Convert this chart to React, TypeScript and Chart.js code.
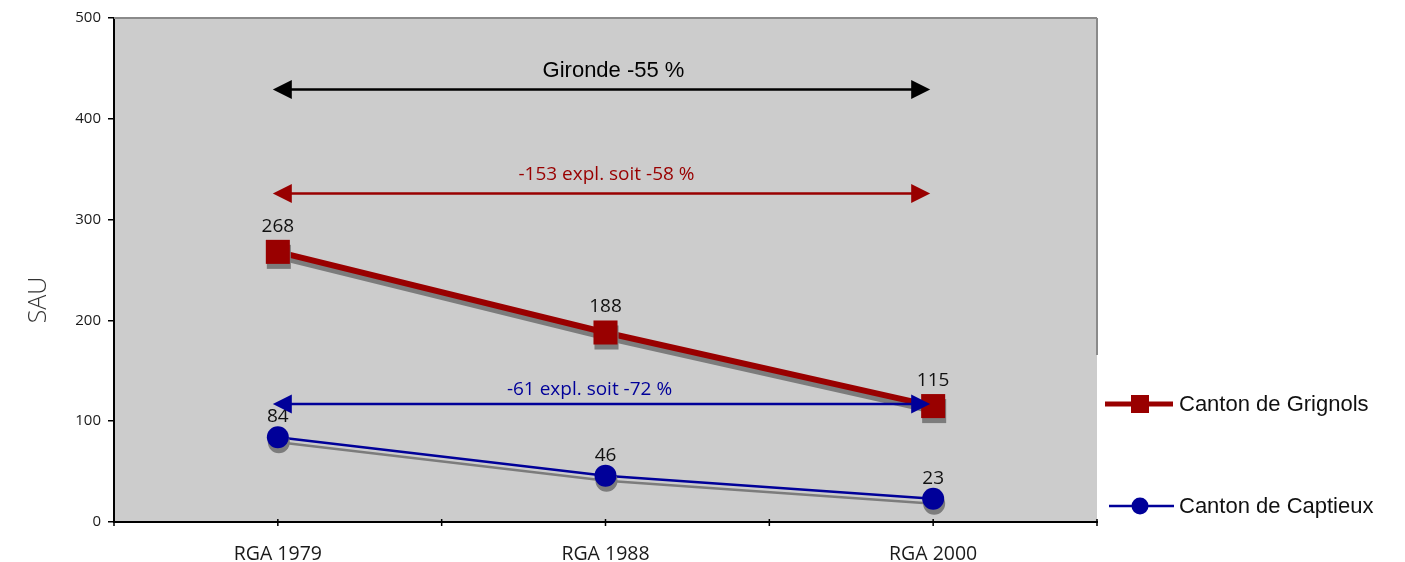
import { useEffect, useRef } from "react";
import { Chart, registerables } from "chart.js";

Chart.register(...registerables);

// Surface agricole (SAU) per canton across the three agricultural censuses
const categories = ["RGA 1979", "RGA 1988", "RGA 2000"];
const grignols = [268, 188, 115];
const captieux = [84, 46, 23];
const yTicks = [0, 100, 200, 300, 400, 500];
const seriesNames = ["Canton de Grignols", "Canton de Captieux"];

// Change arrows spanning 1979 -> 2000, placed at a level of the value axis
const arrowTexts = ["Gironde -55 %", "-153 expl. soit -58 %", "-61 expl. soit -72 %"];
const arrowLevels = [429, 326, 117];

const RED = "#990000";
const BLUE = "#000099";
const SANS = "'Open Sans', sans-serif";
const ARIAL = "'Liberation Sans', Arial, sans-serif";

const arrowStyles = [
  { color: "#000000", font: `22px ${ARIAL}`, dx: 12, dy: -13, width: 2.5 },
  { color: RED, font: `19px ${SANS}`, dx: 5, dy: -13, width: 2.5 },
  { color: BLUE, font: `19px ${SANS}`, dx: -12, dy: -9, width: 2.5 },
];

// gap between a marker and its value label, per series
const labelGap = [20, 15];

function drawArrow(ctx: CanvasRenderingContext2D, x1: number, x2: number, y: number, color: string, lw: number) {
  const head = 19;
  const half = 9.5;
  ctx.save();
  ctx.strokeStyle = color;
  ctx.fillStyle = color;
  ctx.lineWidth = lw;
  ctx.beginPath();
  ctx.moveTo(x1 + head - 2, y);
  ctx.lineTo(x2 - head + 2, y);
  ctx.stroke();
  ctx.beginPath();
  ctx.moveTo(x1, y);
  ctx.lineTo(x1 + head, y - half);
  ctx.lineTo(x1 + head, y + half);
  ctx.closePath();
  ctx.fill();
  ctx.beginPath();
  ctx.moveTo(x2, y);
  ctx.lineTo(x2 - head, y - half);
  ctx.lineTo(x2 - head, y + half);
  ctx.closePath();
  ctx.fill();
  ctx.restore();
}

const plotBackground = {
  id: "plotBackground",
  beforeDraw(chart: any) {
    const { ctx, chartArea: a } = chart;
    ctx.save();
    ctx.fillStyle = "#cccccc";
    ctx.fillRect(a.left, a.top, a.right - a.left, a.bottom - a.top);
    ctx.restore();
  },
};

// Drop shadow under each series (line and markers)
const seriesShadow = {
  id: "seriesShadow",
  beforeDatasetDraw(chart: any) {
    const ctx = chart.ctx;
    ctx.save();
    ctx.shadowColor = "#7c7c7c";
    ctx.shadowOffsetX = 1;
    ctx.shadowOffsetY = 5;
    ctx.shadowBlur = 0;
  },
  afterDatasetDraw(chart: any) {
    chart.ctx.restore();
  },
};

const overlays = {
  id: "overlays",
  afterDatasetsDraw(chart: any) {
    const { ctx, scales } = chart;
    const xs = scales.x;
    const ys = scales.y;

    // value labels above each marker
    ctx.save();
    ctx.fillStyle = "#111";
    ctx.font = `19px ${SANS}`;
    ctx.textAlign = "center";
    ctx.textBaseline = "alphabetic";
    chart.data.datasets.forEach((ds: any, di: number) => {
      const meta = chart.getDatasetMeta(di);
      meta.data.forEach((pt: any, i: number) => {
        ctx.fillText(String(ds.data[i]), pt.x, pt.y - labelGap[di]);
      });
    });
    ctx.restore();

    // change arrows with their captions
    const xStart = xs.getPixelForValue(0) - 5;
    const xEnd = xs.getPixelForValue(categories.length - 1) - 3;
    arrowLevels.forEach((lvl, i) => {
      const st = arrowStyles[i];
      const y = ys.getPixelForValue(lvl);
      drawArrow(ctx, xStart, xEnd, y, st.color, st.width);
      ctx.save();
      ctx.fillStyle = st.color;
      ctx.font = st.font;
      ctx.textAlign = "center";
      ctx.textBaseline = "alphabetic";
      ctx.fillText(arrowTexts[i], (xStart + xEnd) / 2 + st.dx, y + st.dy);
      ctx.restore();
    });
  },
  afterDraw(chart: any) {
    const { ctx, chartArea: a } = chart;
    ctx.save();
    // frame on top and right
    ctx.strokeStyle = "#8a8a8a";
    ctx.lineWidth = 2;
    ctx.beginPath();
    ctx.moveTo(a.left, a.top);
    ctx.lineTo(a.right, a.top);
    ctx.moveTo(a.right, a.top);
    ctx.lineTo(a.right, 355);
    ctx.stroke();

    // category axis with crossing ticks at band edges and centres
    ctx.strokeStyle = "#000";
    ctx.lineWidth = 2;
    ctx.beginPath();
    ctx.moveTo(a.left - 1, a.bottom);
    ctx.lineTo(a.right + 1, a.bottom);
    ctx.stroke();
    ctx.lineWidth = 1.5;
    const n = categories.length;
    const band = (a.right - a.left) / n;
    ctx.beginPath();
    for (let i = 0; i <= 2 * n; i++) {
      const x = a.left + (i * band) / 2;
      ctx.moveTo(x, a.bottom - 3);
      ctx.lineTo(x, a.bottom + 4);
    }
    ctx.stroke();

    // value axis title
    ctx.fillStyle = "#333";
    ctx.font = `300 25px ${SANS}`;
    ctx.textAlign = "center";
    ctx.textBaseline = "middle";
    ctx.translate(39, (a.top + a.bottom) / 2 + 30);
    ctx.rotate(-Math.PI / 2);
    ctx.fillText("SAU", 0, 0);
    ctx.restore();

    // legend to the right of the plot
    const items = [
      { y: 404, lineW: 5, x1: 1105, x2: 1173 },
      { y: 506, lineW: 2.5, x1: 1109, x2: 1174 },
    ];
    chart.data.datasets.forEach((ds: any, i: number) => {
      const it = items[i];
      ctx.save();
      ctx.strokeStyle = ds.borderColor;
      ctx.fillStyle = ds.pointBackgroundColor;
      ctx.lineWidth = it.lineW;
      ctx.beginPath();
      ctx.moveTo(it.x1, it.y);
      ctx.lineTo(it.x2, it.y);
      ctx.stroke();
      const cx = 1140;
      if (ds.pointStyle === "rect") {
        ctx.fillRect(cx - 9, it.y - 9, 18, 18);
      } else {
        ctx.beginPath();
        ctx.arc(cx, it.y, 8.5, 0, Math.PI * 2);
        ctx.fill();
      }
      ctx.fillStyle = "#111";
      ctx.font = `22px ${ARIAL}`;
      ctx.textAlign = "left";
      ctx.textBaseline = "middle";
      ctx.fillText(seriesNames[i], 1179, it.y + 1);
      ctx.restore();
    });
  },
};

export default function App() {
  const ref = useRef<HTMLCanvasElement>(null);

  useEffect(() => {
    const canvas = ref.current;
    if (!canvas) return;
    Chart.defaults.font.family = SANS;
    const chart = new Chart(canvas, {
      type: "line",
      data: {
        labels: categories,
        datasets: [
          {
            label: seriesNames[0],
            data: grignols,
            borderColor: RED,
            backgroundColor: RED,
            borderWidth: 6,
            pointStyle: "rect",
            pointRadius: 17,
            pointBorderWidth: 0,
            pointBackgroundColor: RED,
            pointBorderColor: RED,
            tension: 0,
          },
          {
            label: seriesNames[1],
            data: captieux,
            borderColor: BLUE,
            backgroundColor: BLUE,
            borderWidth: 2.5,
            pointStyle: "circle",
            pointRadius: 11,
            pointBorderWidth: 0,
            pointBackgroundColor: BLUE,
            pointBorderColor: BLUE,
            tension: 0,
          },
        ],
      },
      options: {
        responsive: false,
        animation: false,
        events: [],
        layout: { padding: { top: 18, right: 308, left: 0, bottom: 0 } },
        plugins: { legend: { display: false }, tooltip: { enabled: false } },
        scales: {
          x: {
            offset: true,
            grid: { display: false },
            border: { display: false },
            ticks: { color: "#1a1a1a", font: { size: 19.5 }, padding: 13 },
            afterFit: (s: any) => {
              s.height = 40;
            },
          },
          y: {
            min: 0,
            max: 500,
            ticks: { color: "#1a1a1a", font: { size: 15 }, padding: 7 },
            afterBuildTicks: (s: any) => {
              s.ticks = yTicks.map((v) => ({ value: v }));
            },
            grid: { drawOnChartArea: false, tickLength: 6, color: "#000", lineWidth: 1.5 },
            border: { display: true, color: "#000", width: 2 },
            afterFit: (s: any) => {
              s.width = 114;
            },
          },
        },
      },
      plugins: [plotBackground, seriesShadow, overlays],
    } as any);
    return () => chart.destroy();
  }, []);

  return (
    <div style={{ position: "absolute", left: 0, top: 0, width: 1405, height: 562, background: "#fff" }}>
      <canvas ref={ref} width={1405} height={562} style={{ display: "block" }} />
    </div>
  );
}
